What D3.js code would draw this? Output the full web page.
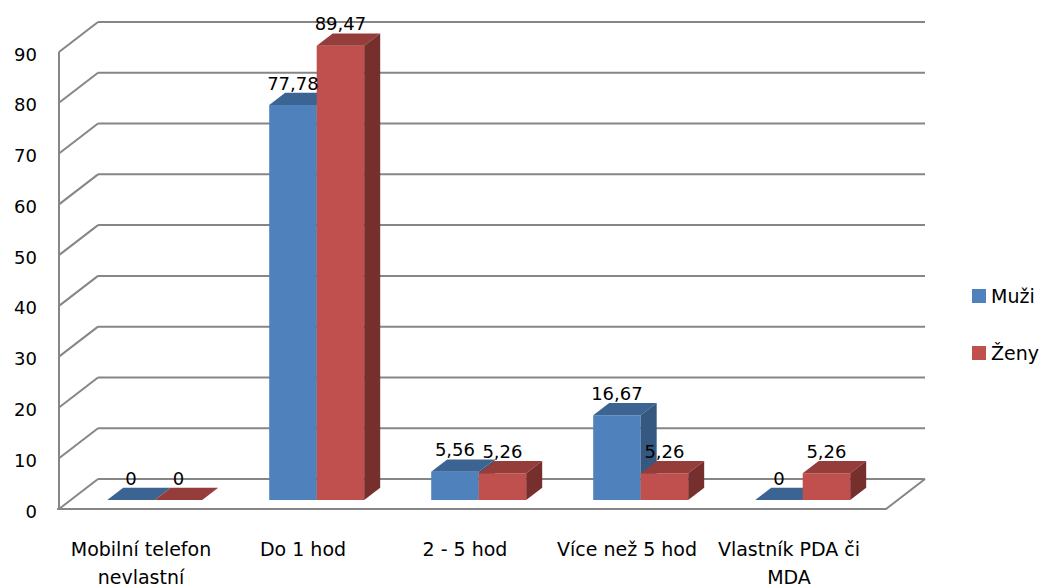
<!DOCTYPE html>
<html>
<head>
<meta charset="utf-8">
<script src="https://cdn.jsdelivr.net/npm/d3@7"></script>
<style>
  html, body { margin: 0; padding: 0; background: #fff; }
  svg { display: block; }
  text { font-family: "DejaVu Sans", sans-serif; fill: #000; }
</style>
</head>
<body>
<svg id="chart" width="1040" height="586"></svg>
<script>
// Kategorie a hodnoty (%)
const categories = ["Mobilní telefon nevlastní", "Do 1 hod", "2 - 5 hod", "Více než 5 hod", "Vlastník PDA či MDA"];
const categoryLines = [["Mobilní telefon", "nevlastní"], ["Do 1 hod"], ["2 - 5 hod"], ["Více než 5 hod"], ["Vlastník PDA či", "MDA"]];
const seriesNames = ["Muži", "Ženy"];
const muzi = [0, 77.78, 5.56, 16.67, 0];
const zeny = [0, 89.47, 5.26, 5.26, 5.26];
const yTicks = [0, 10, 20, 30, 40, 50, 60, 70, 80, 90];
const valueLabels = {
  "Muži": ["0", "77,78", "5,56", "16,67", "0"],
  "Ženy": ["0", "89,47", "5,26", "5,26", "5,26"]
};

const colors = {
  "Muži": { front: "#4F81BD", top: "#3C6493", side: "#34587F" },
  "Ženy": { front: "#C0504D", top: "#943D3B", side: "#772F2D" }
};

const svg = d3.select("#chart");

// Front plane of the 3D box and its depth offset
const left = 59, right = 886;
const depthX = 39, depthY = -30;
const y = d3.scaleLinear().domain([0, 90]).range([509, 52]);
const x0 = d3.scaleBand().domain(categories).range([62, 872]).padding(0);
const barW = 47.5;
const tFront = 0.3, tBack = 0.71;

const P = (xf, v, t) => [xf + depthX * t, y(v) + depthY * t];
const line = pts => "M" + pts.map(p => p.join(",")).join("L");

const grid = svg.append("g").attr("stroke", "#868686").attr("stroke-width", 2).attr("fill", "none");

// back wall gridlines and side wall diagonals
yTicks.forEach(v => {
  grid.append("path").attr("d", line([P(left, v, 1), P(right, v, 1)]));
  grid.append("path").attr("d", line([P(left, v, 0), P(left, v, 1)]));
});
// front vertical axis
grid.append("path").attr("d", line([P(left, 0, 0), P(left, 90, 0)]));
// floor front edge and right edge
grid.append("path").attr("d", line([P(left - 2, 0, 0), P(right, 0, 0), P(right, 0, 1)]));

// y tick labels
svg.append("g").selectAll("text").data(yTicks).join("text")
  .attr("x", 37).attr("y", d => y(d) + 2)
  .attr("text-anchor", "end").attr("dominant-baseline", "central")
  .attr("font-size", 18).text(d => d);

// bars
const seriesData = [muzi, zeny];
const bars = svg.append("g");
categories.forEach((c, i) => {
  const center = x0(c) + x0.bandwidth() / 2;
  seriesNames.forEach((s, j) => {
    const v = seriesData[j][i];
    const xl = center - barW + j * barW;
    const xr = xl + barW;
    const col = colors[s];
    const g = bars.append("g");
    // front face
    g.append("path").attr("fill", col.front)
      .attr("d", line([P(xl, 0, tFront), P(xr, 0, tFront), P(xr, v, tFront), P(xl, v, tFront)]) + "Z");
    // top face
    g.append("path").attr("fill", col.top)
      .attr("d", line([P(xl, v, tFront), P(xr, v, tFront), P(xr, v, tBack), P(xl, v, tBack)]) + "Z");
    // side face
    g.append("path").attr("fill", col.side)
      .attr("d", line([P(xr, 0, tFront), P(xr, 0, tBack), P(xr, v, tBack), P(xr, v, tFront)]) + "Z");
  });
});

// value labels
const labels = svg.append("g");
categories.forEach((c, i) => {
  const center = x0(c) + x0.bandwidth() / 2;
  seriesNames.forEach((s, j) => {
    const v = seriesData[j][i];
    const xm = center - barW / 2 + j * barW;
    labels.append("text")
      .attr("x", P(xm, v, tFront)[0])
      .attr("y", P(xm, v, tBack)[1] - 3)
      .attr("text-anchor", "middle")
      .attr("font-size", 18)
      .text(valueLabels[s][i]);
  });
});

// category labels
const cat = svg.append("g");
categories.forEach((c, i) => {
  const cx = x0(c) + x0.bandwidth() / 2 - 2;
  const t = cat.append("text")
    .attr("x", cx)
    .attr("y", 555.5)
    .attr("text-anchor", "middle")
    .attr("font-size", 19);
  categoryLines[i].forEach((ln, k) => {
    t.append("tspan").attr("x", cx).attr("dy", k === 0 ? 0 : 28).text(ln);
  });
});

// legend
const legend = svg.append("g");
seriesNames.forEach((s, j) => {
  const ly = 289 + j * 57;
  legend.append("rect").attr("x", 972).attr("y", ly).attr("width", 14).attr("height", 14).attr("fill", colors[s].front);
  legend.append("text").attr("x", 991).attr("y", ly + 14).attr("font-size", 19).text(s);
});
</script>
</body>
</html>
